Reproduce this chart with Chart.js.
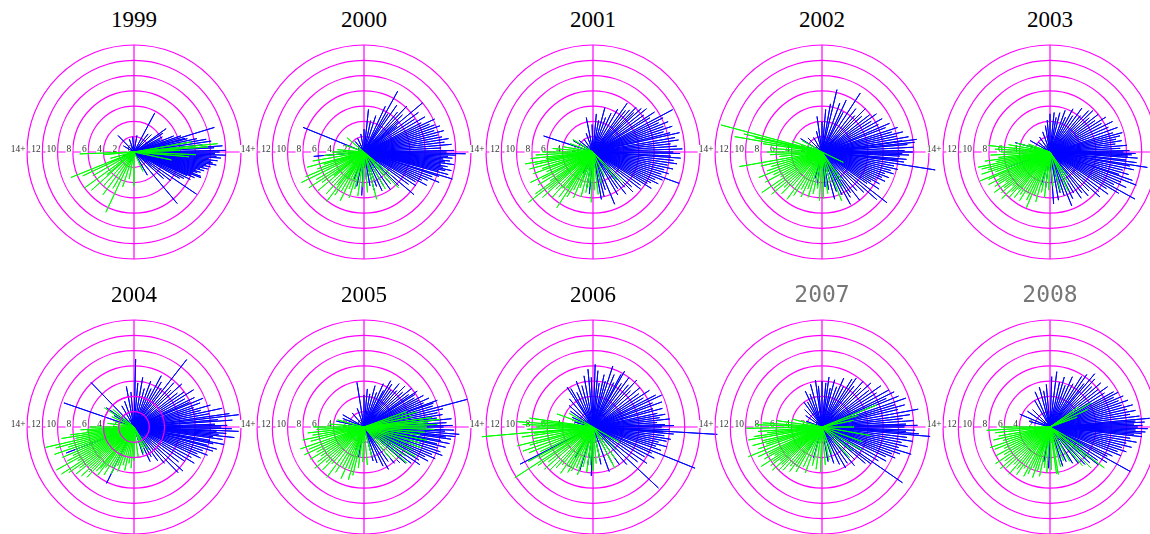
<!DOCTYPE html>
<html>
<head>
<meta charset="utf-8">
<script src="https://cdn.jsdelivr.net/npm/chart.js@4/dist/chart.umd.min.js"></script>
<style>
  body { margin: 0; background: #fff; width: 1150px; height: 534px; overflow: hidden; position: relative; }
  .plot { position: absolute; }
  .title { position: absolute; width: 120px; text-align: center; font-size: 23px; line-height: 23px; }
  .serif { font-family: "Liberation Serif", "DejaVu Serif", serif; color: #000; }
  .mono { font-family: "DejaVu Sans Mono", monospace; color: #777; }
</style>
</head>
<body>
<script>
// each entry: [direction in degrees (0 = east, counter-clockwise), length]
const years = ["1999", "2000", "2001", "2002", "2003", "2004", "2005", "2006", "2007", "2008"];
const ringTicks = [0, 2, 4, 6, 8, 10, 12, 14];
const tickLabels = ["0", "2", "4", "6", "8", "10", "12", "14+"];

const blue1999 = [[17,11],[15,6.9],[36,5.2],[33,4.5],[62,5.8],[28,4.2],[22,5.6],[12,8.4],[10,9.6],[8,10.2],[6,9],[4,11.6],[3,10.5],[1,12],[0,11.2],[-1,10.6],[-2,12],[-3,10.8],[-4,11.4],[-5,9.8],[-6,11],[-7,10.1],[-8,10.4],[-9,10.9],[-10,9.6],[-11,10.2],[-12,9.3],[-13,9.9],[-14,8.9],[-15,9.5],[-16,8.4],[-17,9.1],[-18,8.7],[-19,8.2],[-20,9.3],[-21,9.4],[-22,8],[-23,8.6],[-24,7.6],[-26,8.2],[-28,7.4],[-30,6.9],[-34,9.9],[-38,6.1],[-42,5.2],[-50,8.8],[-60,3.5],[45,3.2],[52,3],[80,2.2],[95,2],[110,1.8],[134,3],[150,1.6],[200,1.5],[230,1.2],[250,1.5],[14,7.2],[19,6.5],[25,3.8]];
const green1999 = [[5.7,11],[4,9.7],[10,7.6],[-2.5,8.1],[2,6],[-5,7.2],[182,7.1],[185,4],[202,8.9],[205,7.4],[216,8],[210,6.2],[222,7.5],[228,6],[234,6.9],[240,5.5],[245,8.7],[252,4.8],[260,3.6],[270,4.5],[295,2.8],[195,3.2],[220,4.6],[-12,5]];

const blue2000 = [[61,9.1],[40,10],[21,9.9],[-1,13.3],[-12,11.7],[-17,12.1],[-40.5,8.6],[84,5.6],[65,6.6],[158,8.6],[185,6.6],[267,5.7],[-60,5.1],[55,7.5],[50,6.8],[47,8.2],[44,7],[36,8.8],[33,7.9],[30,9.2],[27,8.4],[25,10.2],[23,9.3],[19,10.5],[17,9.6],[15,10.8],[13,9.9],[11,10.4],[9,11.2],[7,10.6],[5,11.5],[3,10.1],[1,11.8],[0,10.8],[-2,12],[-3,11],[-4,11.6],[-5,10.4],[-6,11.3],[-7,10.7],[-8,11.9],[-9,10.2],[-10,11.1],[-11,10.5],[-13,10.9],[-14,10],[-15,11.4],[-18,10.3],[-20,9.5],[-22,10.6],[-24,9.1],[-26,8.4],[-28,9.3],[-30,7.8],[-33,8.1],[-36,7.2],[-44,6.3],[-50,5.4],[-55,6],[-65,5.6],[-70,4.8],[-75,5.2],[-80,4.5],[72,5],[78,4.2],[90,3],[100,2.4],[115,2],[130,1.8],[250,3.8],[258,4.6],[275,4],[58,5.9],[42,6],[38,5.5]];
const green2000 = [[140,2.9],[206,9.1],[233,8.1],[285,6.4],[-46,6.5],[190,6.8],[185,5.2],[195,7.7],[200,6.5],[203,8.3],[210,7.2],[213,8.6],[216,6.8],[220,7.9],[224,6],[228,7.4],[231,5.6],[236,6.8],[240,5.9],[244,7.1],[248,5.2],[252,6.3],[256,5],[262,5.8],[268,4.6],[275,5.3],[290,4],[300,5.6],[-50,5.2],[-40,4.6],[180,4.2],[175,3.5],[160,2.5],[197,5.5],[218,5],[238,4.2]];

const blue2001 = [[28,11.8],[12.6,11.6],[-20,12],[49,7.3],[42,8.5],[75,6],[101,4.6],[162,6.8],[-67.5,7.4],[-80,6.3],[-52,7],[60,6.5],[55,7.8],[52,6.9],[46,8.1],[44,7.4],[39,9],[36,8.2],[33,9.6],[31,8.7],[26,10.2],[24,9.4],[22,10.6],[20,9.8],[18,10.9],[16,9.6],[14,10.4],[10,10.9],[8,11.3],[6,10.2],[4,11],[2,11.7],[0,10.5],[-1,11.4],[-3,10.2],[-4,11.5],[-6,10.6],[-8,11.1],[-10,9.9],[-12,10.7],[-14,9.6],[-16,10.3],[-18,9.4],[-22,9.8],[-24,8.9],[-26,9.5],[-28,8.6],[-30,8.2],[-32,9],[-35,7.6],[-38,7.9],[-42,6.8],[-45,7.4],[-48,6.2],[-56,5.8],[-60,6.5],[-72,5.2],[-76,6],[65,5.6],[70,4.8],[80,4.2],[85,5],[92,3.6],[110,2.6],[125,2],[140,2.4],[150,3],[250,3.5],[260,4.8],[265,5.5],[245,3]];
const green2001 = [[218,10.7],[190,9],[237,8.7],[268,6.6],[277,5.6],[148,3.1],[-45,5.5],[-50,4.8],[180,6.6],[183,7.5],[186,8.2],[188,6.2],[192,7.8],[195,8.6],[198,7],[200,8.3],[203,6.6],[206,9.1],[208,7.5],[211,8.4],[214,6.8],[216,9.3],[220,7.6],[222,8.9],[225,6.9],[228,8],[230,6.2],[233,7.4],[235,5.8],[240,6.8],[243,5.6],[247,6.5],[250,5],[255,6.1],[260,5.4],[264,4.6],[272,5],[285,4.2],[295,3.5],[170,4],[160,3.2],[175,5.3]];

const blue2002 = [[76.5,8.4],[57,9.2],[38,7.9],[7.6,12.5],[-9,15],[-38,10.8],[-61.5,7.8],[148,3.3],[98,4.7],[85,5.6],[80,6.4],[70,6.8],[65,7.5],[62,5.9],[52,7.2],[48,6.4],[45,8],[42,7],[35,8.7],[32,7.6],[29,9],[26,8.2],[23,9.6],[21,8.9],[18,10.4],[16,9.5],[14,10.9],[12,10],[10,11.5],[8,10.6],[6,12.2],[5,11.2],[3,12],[1,10.8],[0,11.9],[-1,10.5],[-2,11.4],[-3,10.2],[-5,11.1],[-6,10],[-7,10.8],[-11,9.6],[-13,10.2],[-15,9.3],[-17,9.8],[-19,8.7],[-21,9.4],[-23,8.5],[-25,9.1],[-27,7.9],[-29,8.6],[-31,7.5],[-33,8.9],[-35,7.2],[-41,9.5],[-44,7.6],[-48,6.8],[-52,8],[-55,6.5],[-58,7],[-65,6.2],[-70,5.5],[-75,6.4],[-80,5],[-85,4.6],[90,4],[105,2.8],[120,2.2],[135,2.6],[160,2],[255,3.6],[262,4.4]];
const green2002 = [[165,13.7],[167,10.5],[168,9],[170,11.6],[172,7.8],[190,11],[214,9.5],[233.5,7.7],[272,6.1],[-26,3.1],[-68,6.9],[176,6.5],[180,7.2],[183,6.8],[186,5.6],[193,8.2],[196,6.9],[199,7.6],[202,8.9],[205,7],[208,8.4],[211,6.3],[217,7.9],[220,8.6],[223,6.8],[226,7.6],[229,6],[237,6.8],[241,5.6],[245,6.5],[249,5.2],[253,6.2],[258,5.6],[263,4.8],[267,6.4],[278,5.5],[285,4.2],[-60,5.2],[-55,4.4],[150,3],[160,4.2]];

const blue2003 = [[44,7.8],[76,5.3],[90,5],[13,9.4],[-2,10.7],[-9,12.9],[-21,12.1],[-29,12.7],[-49,7.6],[-68,7.6],[-86,6.8],[165,4.7],[200,5.8],[84,5.2],[80,4.6],[70,5.8],[66,5],[62,6.4],[58,5.6],[54,7.1],[50,6.2],[47,7.4],[41,6.8],[38,8],[35,7.2],[32,8.6],[29,7.7],[26,9.1],[23,8.3],[20,9.4],[17,8.6],[15,9.8],[11,8.8],[9,9.5],[7,8.6],[5,10.1],[3,9.2],[1,10.4],[0,9.6],[-1,11.2],[-3,10.2],[-4,11.5],[-6,10],[-7,11.4],[-10,10.6],[-12,11.2],[-14,9.8],[-16,10.7],[-18,9.5],[-19,11.4],[-23,10.1],[-25,11],[-27,9.4],[-31,10.5],[-33,8.8],[-36,9.4],[-39,8.2],[-42,8.8],[-45,7.2],[-52,6.8],[-56,7.3],[-60,6.2],[-64,6.8],[-72,6],[-76,5.5],[-80,6.4],[95,4.2],[100,3.5],[110,2.8],[125,2.4],[140,2],[150,3],[255,4.4],[263,5]];
const green2003 = [[194,9.2],[202.5,9.9],[174,8.1],[247,7.9],[-65,5.6],[177,7.2],[180,6.4],[183,7.8],[186,6.8],[188,8.6],[190,7.2],[192,9.6],[196,8.4],[198,9.4],[200,7.6],[204,8.8],[206,7.4],[208,9.1],[210,7.8],[212,8.5],[214,7],[216,9],[218,7.6],[220,8.3],[222,6.6],[224,8.8],[226,7.2],[228,8],[230,6.4],[232,7.6],[235,6.8],[238,7.5],[241,6.2],[244,7],[250,6],[254,6.8],[258,5.4],[263,6],[268,5],[275,4.5],[285,5.2],[-60,4.6],[-55,3.8],[170,5.5],[165,4.5],[160,3]];

const blue2004 = [[88.6,8.9],[52,11.2],[22.6,9.8],[6.7,13.8],[-2.4,13.7],[-15,11.2],[-46,8.3],[244,8.2],[161,9.7],[134,8.1],[100.7,5.4],[58.7,6.9],[201,9.5],[-72,3.8],[85,5.8],[80,6.6],[75,5.2],[70,6.4],[66,5.5],[62,7.6],[55,6.2],[48,7.8],[45,6.8],[42,8.4],[38,7.2],[35,8],[32,9.2],[29,7.6],[26,8.8],[24,7.9],[20,9.2],[18,8.2],[16,10.4],[14,9],[12,11.8],[10,10],[8,12.6],[5,11],[4,12.9],[2,10.6],[1,12.2],[0,11.4],[-1,12.8],[-3,10.8],[-4,12.1],[-5,11.1],[-6,13.2],[-7,10.4],[-8,11.7],[-10,10.1],[-11,12],[-12,10.6],[-14,9.9],[-17,10.8],[-19,9.5],[-21,10.3],[-23,9],[-25,9.6],[-28,8.5],[-31,9.2],[-34,8],[-38,7.4],[-42,8.6],[-50,6.2],[-55,5.4],[-60,4.5],[-65,5],[95,4.6],[110,3.6],[120,3.2],[145,4.4],[150,3]];
const green2004 = [[193,11.9],[213,11.3],[229.6,7.6],[147,4.6],[-58,3.5],[266,5.4],[180,5.8],[183,7],[185,6.2],[187,8.4],[189,9.6],[191,7.8],[195,10.6],[197,9],[199,11],[201,8.2],[203,10.2],[205,8.8],[207,9.8],[209,11.6],[211,8.6],[215,10.4],[217,8.9],[219,9.8],[221,7.9],[223,9.4],[225,8.3],[227,9],[231,7],[233,8],[235,6.5],[238,7.4],[241,6],[244,6.8],[247,5.5],[250,6.2],[254,5.2],[258,5.8],[262,4.8],[270,4.4],[278,4],[290,3.6],[-65,3],[140,3.6],[155,3.2],[165,2.6],[172,3.5]];

const blue2005 = [[99,5.9],[57,6.7],[32.6,7.9],[19,9.6],[15,14],[5.4,11.5],[-4.4,12.5],[-20,10.9],[-37.6,7.8],[-64,5.7],[243,2],[168,3.7],[90,4.2],[85,5],[80,4.4],[75,5.6],[70,4.8],[66,6.2],[62,5.4],[60,7],[54,6],[51,7.3],[48,6.4],[45,7.6],[42,6.8],[39,8],[36,7.2],[34,8.4],[30,7.6],[28,8.8],[26,8],[24,9.3],[22,8.4],[20,10.2],[17,9.4],[13,10.6],[11,9.8],[9,10.4],[7,9.6],[3,10.8],[1,11.6],[0,10.4],[-2,11.8],[-3,10.6],[-6,12],[-7,10.8],[-8,11.5],[-10,10.2],[-11,11.4],[-13,9.8],[-14,11],[-16,10],[-18,10.5],[-22,9.6],[-24,10.2],[-26,8.9],[-28,9.5],[-31,8.4],[-34,8.8],[-41,7.2],[-45,6.6],[-50,6.2],[-55,5.5],[-60,6.4],[-70,5],[-75,4.6],[110,2.6],[130,2.4],[150,3.2],[158,3],[250,3.2],[260,4]];
const green2005 = [[5.8,10],[-40,7.3],[199,8.8],[233.6,8.2],[253.5,7.2],[180,6.6],[8,9],[4,8.4],[2,9.6],[0,8.2],[-2,9.2],[-5,8],[-8,7.4],[-12,8.4],[-16,7.6],[-20,8],[-25,7],[-30,7.8],[-35,6.6],[-45,6],[-50,5.2],[12,6.5],[16,7.2],[20,6],[183,6.2],[186,7.4],[189,6.8],[192,8.2],[195,7.2],[202,7.8],[205,8.6],[208,7],[211,8.2],[214,6.8],[217,7.6],[220,8.4],[223,6.8],[226,7.8],[229,6.4],[238,7],[242,6],[246,7.4],[250,5.8],[257,6.5],[262,5.4],[268,4.6],[275,5],[285,4],[175,4.5],[165,3.6]];

const blue2006 = [[88,8.2],[72,8.4],[60.5,8.4],[24.9,9.9],[-3.4,16.3],[-9,10.3],[-22,14.4],[-43,11.7],[123,6.2],[207,10.7],[253,6],[95,7.6],[92,6.5],[85,7.4],[82,5.8],[78,7],[75,6.2],[68,7.4],[65,6.4],[62,7.8],[57,6.8],[54,8],[50,7.2],[47,8.4],[44,6.8],[40,8],[36,7.4],[33,8.8],[30,7.6],[27,9.2],[22,8.4],[20,9.6],[17,8.2],[15,9.4],[12,8.6],[10,9.6],[8,8.8],[6,10.1],[4,8.4],[2,9.4],[1,10.6],[0,9],[-2,10],[-4,9.2],[-5,10.6],[-7,9.4],[-11,9.8],[-13,8.8],[-15,10],[-17,8.6],[-19,9.4],[-24,8.4],[-27,9],[-30,7.8],[-34,8.5],[-38,7.4],[-48,6.6],[-55,6],[-62,5.4],[-70,6.2],[-78,5],[100,6.8],[105,5.6],[110,6.4],[115,5],[120,5.8],[130,4.8],[138,4.2],[145,3.6],[155,3],[165,2.5],[240,4.6],[262,5.2],[268,6.4]];
const green2006 = [[185,14.6],[213,12.2],[199,9.7],[176,10],[225,8],[244,6.4],[270,5.7],[-62,6.1],[172,8.4],[174,6.8],[178,9.2],[180,7.4],[182,8.6],[186,7.8],[188,9.4],[191,8],[194,10.2],[196,8.6],[202,9],[205,7.6],[208,9.6],[210,8.2],[215,8.8],[218,7.4],[221,8.4],[228,7.2],[231,6.4],[235,7.4],[238,6.2],[241,6.8],[248,5.8],[252,6.6],[256,5.4],[262,6],[266,5],[275,4.8],[282,4.2],[-55,5],[-45,4.2],[-30,4],[160,5],[150,3.6]];

const blue2007 = [[90,6],[55,7.8],[26,10.5],[19,11.6],[10.5,12.8],[-5,14.2],[-17,12.2],[-34.7,12.8],[-28,9.5],[-45,6.1],[126,4],[95,5.4],[98,6.2],[85,5.8],[82,6.6],[78,5.2],[75,6.4],[70,5.6],[66,7],[62,6],[58,7.4],[52,6.8],[48,8],[45,7.2],[42,8.6],[38,7.8],[35,9.4],[32,8.4],[29,10],[24,9.2],[22,10.8],[17,10],[15,11.2],[13,10.2],[8,11.6],[6,10.6],[4,12],[2,11],[1,12.5],[0,10.8],[-2,12.2],[-3,11],[-4,12.7],[-7,11.2],[-9,12],[-11,10.6],[-13,11.5],[-15,10.4],[-19,10.8],[-21,9.8],[-23,10.4],[-25,9.2],[-31,8.6],[-37,8],[-40,7.4],[-50,6.6],[-55,5.8],[-60,6.2],[-65,5.4],[-72,5],[-80,4.6],[105,5.8],[110,4.6],[115,5.2],[120,3.8],[135,3.2],[145,2.6],[160,2.2],[240,3.4],[255,4.2]];
const green2007 = [[190,9.8],[202,10.4],[181,9.9],[172,6],[225,8.1],[268,5.9],[-48,5.4],[22,7.7],[18,5],[12,4.2],[0,4.2],[-10,6.4],[-20,5.6],[-30,6],[-38,5],[176,7.8],[178,8.6],[184,8.4],[186,7.2],[188,9],[193,8],[195,9.4],[197,7.6],[199,8.8],[205,9.2],[207,7.8],[209,8.6],[211,7.2],[213,9.5],[215,7.8],[217,8.4],[219,7],[221,8.6],[223,7.2],[228,7.6],[231,6.6],[234,7.2],[237,6.2],[240,6.8],[245,5.8],[250,6.4],[256,5.2],[262,5.6],[275,5],[282,4.4],[290,3.8],[165,4]];

const blue2008 = [[83,7.3],[50,9.1],[29,9.5],[5,13.1],[-4,12],[-29,12],[-47,6.7],[157,4.3],[113,5],[268,5.4],[88,6.6],[78,6],[74,6.8],[70,5.8],[66,7.2],[62,6.4],[58,7.8],[55,8.4],[52,7.2],[47,8.6],[44,7.6],[41,8.8],[38,8],[35,9.2],[32,8.4],[27,10],[25,9.2],[23,10.4],[21,9.6],[19,10.8],[17,9.8],[15,11.2],[13,10.3],[11,11.4],[9,10.6],[7,11.8],[4,11.2],[3,12.4],[2,11],[1,12.1],[0,11.5],[-1,12.8],[-2,11.2],[-3,12.5],[-5,11],[-6,12.1],[-8,10.6],[-10,11.5],[-12,10.2],[-14,11],[-16,9.8],[-18,10.5],[-20,9.4],[-22,10],[-25,9],[-27,8.4],[-32,8.8],[-35,7.6],[-38,8],[-42,7],[-52,6],[-58,5.6],[-65,5],[-72,5.4],[95,5.6],[100,4.8],[105,5.4],[120,4],[135,3.2],[145,3.6],[165,2.8],[250,3.2],[260,4.6]];
const green2008 = [[183,8.3],[220,8.5],[242,7.3],[-80,6.3],[-37,8.9],[30.5,6.2],[199,8.3],[180,6.4],[186,7.2],[190,6.8],[193,7.6],[196,6.4],[202,7.8],[205,6.6],[208,8],[211,7],[214,8.6],[217,7.4],[223,7.8],[226,6.8],[229,8.2],[232,7],[235,7.6],[238,6.4],[245,6.8],[248,5.8],[251,7],[254,6],[258,6.6],[262,5.4],[266,6],[272,5.6],[278,6.2],[285,5.4],[292,4.8],[300,5.2],[-50,6.6],[-45,7.6],[-40,6.2],[-30,5],[25,5.4],[35,4.6],[20,3.8]];

const blueSeries = [blue1999, blue2000, blue2001, blue2002, blue2003, blue2004, blue2005, blue2006, blue2007, blue2008];
const greenSeries = [green1999, green2000, green2001, green2002, green2003, green2004, green2005, green2006, green2007, green2008];

// layout
const colX = [134, 364, 593, 822, 1050];
const rowY = [152, 427];
const HALF = 135;          // half canvas size in px
const PX_PER_UNIT = 107 / 14;
const RANGE = HALF / PX_PER_UNIT;
const MAGENTA = "#ff00ff";

// center -> tip -> center ... so one dataset draws all the spokes
function spokes(list){
  const pts = [];
  list.forEach(([deg, len]) => {
    const a = deg * Math.PI / 180;
    pts.push({x: 0, y: 0});
    pts.push({x: len * Math.cos(a), y: len * Math.sin(a)});
  });
  pts.push({x: 0, y: 0});
  return pts;
}

function ring(ctx, xs, cx, cy, v){
  const r = xs.getPixelForValue(v) - cx;
  ctx.beginPath();
  ctx.arc(cx, cy, r, 0, Math.PI * 2);
  ctx.stroke();
}

const polarGrid = {
  id: "polarGrid",
  beforeDatasetsDraw(chart){
    const ctx = chart.ctx, xs = chart.scales.x, ys = chart.scales.y;
    const cx = xs.getPixelForValue(0), cy = ys.getPixelForValue(0);
    const top = ringTicks[ringTicks.length - 1];
    ctx.save();
    ctx.strokeStyle = MAGENTA;
    ctx.lineWidth = 1.2;
    ringTicks.slice(1).forEach(v => ring(ctx, xs, cx, cy, v));
    ctx.beginPath();
    ctx.moveTo(xs.getPixelForValue(-top), cy);
    ctx.lineTo(xs.getPixelForValue(top), cy);
    ctx.moveTo(cx, ys.getPixelForValue(top));
    ctx.lineTo(cx, ys.getPixelForValue(-top));
    ctx.stroke();
    ctx.font = '9.5px "Liberation Serif", serif';
    ctx.textBaseline = "alphabetic";
    ctx.textAlign = "right";
    ringTicks.forEach((v, i) => {
      const x = xs.getPixelForValue(-v) - 1.5;
      const w = ctx.measureText(tickLabels[i]).width;
      ctx.fillStyle = "#fff";
      ctx.fillRect(x - w - 1, cy - 7, w + 2, 8);
      ctx.fillStyle = "#333";
      ctx.fillText(tickLabels[i], x, cy);
    });
    ctx.restore();
  },
  afterDatasetsDraw(chart, args, opts){
    if (!opts.overRings) return;
    const ctx = chart.ctx, xs = chart.scales.x, ys = chart.scales.y;
    const cx = xs.getPixelForValue(0), cy = ys.getPixelForValue(0);
    ctx.save();
    ctx.strokeStyle = MAGENTA;
    ctx.lineWidth = 1.2;
    opts.overRings.forEach(v => ring(ctx, xs, cx, cy, v));
    ctx.restore();
  }
};

years.forEach((year, i) => {
  const cx = colX[i % 5], cy = rowY[Math.floor(i / 5)];

  const title = document.createElement("div");
  title.className = "title " + (i >= 8 ? "mono" : "serif");
  title.textContent = year;
  title.style.left = (cx - 60) + "px";
  title.style.top = (cy - 144) + "px";
  document.body.appendChild(title);

  const canvas = document.createElement("canvas");
  canvas.className = "plot";
  canvas.width = HALF * 2;
  canvas.height = HALF * 2;
  canvas.style.left = (cx - HALF) + "px";
  canvas.style.top = (cy - HALF) + "px";
  document.body.appendChild(canvas);

  new Chart(canvas, {
    type: "scatter",
    data: {
      datasets: [
        { label: "green", data: spokes(greenSeries[i]), borderColor: "#00ff00" },
        { label: "blue", data: spokes(blueSeries[i]), borderColor: "#0000ff" }
      ]
    },
    options: {
      responsive: false,
      animation: false,
      showLine: true,
      layout: { padding: 0 },
      elements: {
        point: { radius: 0, hoverRadius: 0 },
        line: { borderWidth: 1, tension: 0, borderJoinStyle: "bevel" }
      },
      datasets: { scatter: { clip: false } },
      scales: {
        x: { type: "linear", display: false, min: -RANGE, max: RANGE },
        y: { type: "linear", display: false, min: -RANGE, max: RANGE }
      },
      plugins: {
        legend: { display: false },
        tooltip: { enabled: false },
        polarGrid: { overRings: year === "2004" ? [2, 4] : null }
      }
    },
    plugins: [polarGrid]
  });
});
</script>
</body>
</html>
